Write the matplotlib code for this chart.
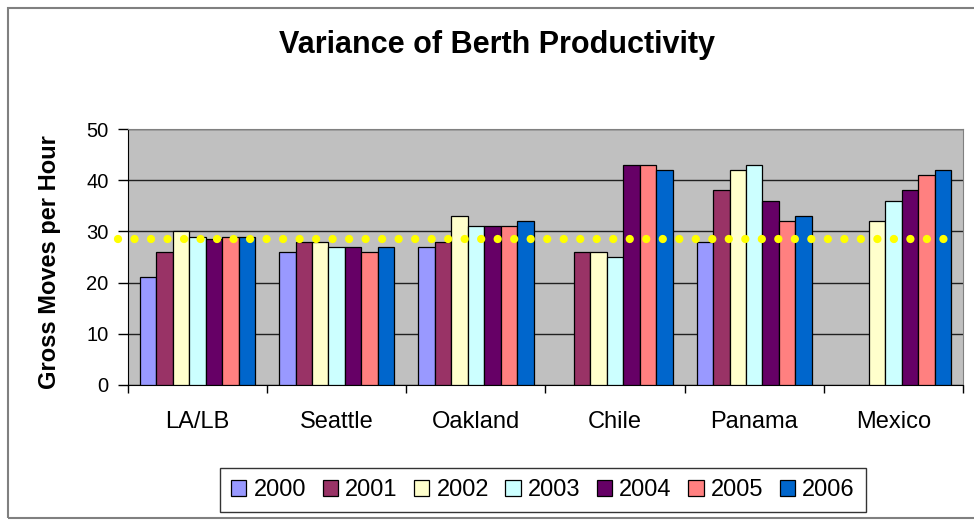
import numpy as np
import matplotlib.pyplot as plt
from matplotlib.patches import Rectangle

ports = ['LA/LB', 'Seattle', 'Oakland', 'Chile', 'Panama', 'Mexico']
years = ['2000', '2001', '2002', '2003', '2004', '2005', '2006']

# gross moves per hour, one list per port (nan = no data that year)
la_lb = [21, 26, 30, 29, 28.5, 29, 29]
seattle = [26, 28, 28, 27, 27, 26, 27]
oakland = [27, 28, 33, 31, 31, 31, 32]
chile = [np.nan, 26, 26, 25, 43, 43, 42]
panama = [28, 38, 42, 43, 36, 32, 33]
mexico = [np.nan, np.nan, 32, 36, 38, 41, 42]
average = 28.5

colors = ['#9999FF', '#993366', '#FFFFCC', '#CCFFFF', '#660066', '#FF8080', '#0066CC']

values = np.array([la_lb, seattle, oakland, chile, panama, mexico])

plt.rcParams['font.family'] = ['Liberation Sans', 'DejaVu Sans']

fig = plt.figure(figsize=(9.74, 5.23), dpi=100)
ax = fig.add_axes([0.1314, 0.2639, 0.8573, 0.4894])
ax.set_facecolor('#C0C0C0')

x = np.arange(len(ports)) + 0.5
w = 0.1185
for i, yr in enumerate(years):
    ax.bar(x + (i - 3) * w, values[:, i], width=w, color=colors[i],
           edgecolor='black', linewidth=0.9, label=yr, zorder=3)

# average line, dotted yellow, runs a little past the axis
ax.plot([-0.07, 5.955], [average, average], color='#FFFF00',
        linewidth=6, linestyle=(0, (0.001, 1.98)), dash_capstyle='round',
        clip_on=False, zorder=5)

ax.set_xlim(0, 6)
ax.set_ylim(0, 50)
ax.set_yticks([0, 10, 20, 30, 40, 50])
ax.yaxis.grid(True, color='#202020', linewidth=1)
ax.set_axisbelow(True)

ax.set_xticks(np.arange(7))
ax.set_xticklabels([])
ax.set_xticks(x, minor=True)
ax.set_xticklabels(ports, minor=True)
ax.tick_params(axis='x', which='minor', length=0, pad=19, labelsize=17)
ax.tick_params(axis='x', which='major', length=6, width=1, direction='out')
ax.tick_params(axis='y', length=7, width=1, direction='out', labelsize=14.5, pad=7)

for s in ['top', 'right']:
    ax.spines[s].set_color('#808080')
for s in ['left', 'bottom']:
    ax.spines[s].set_color('black')

ax.set_ylabel('Gross Moves per Hour', fontsize=17, fontweight='bold')
ax.yaxis.label.set_va('center')
ax.yaxis.set_label_coords(-0.094, 0.48)
fig.text(0.51, 0.914, 'Variance of Berth Productivity', ha='center', va='center',
         fontsize=22, fontweight='bold')

fig.legend(loc='center', bbox_to_anchor=(0.5575, 0.063), ncol=7,
           fontsize=17, frameon=True, fancybox=False, edgecolor='black',
           handlelength=0.65, handleheight=0.65, handletextpad=0.3,
           columnspacing=0.7, borderpad=0.45, borderaxespad=0)
fig.legends[0].get_frame().set_linewidth(1)

# chart border
fig.add_artist(Rectangle((8 / 974, 1 - 518 / 523), 1.0, 510 / 523,
                         transform=fig.transFigure, fill=False,
                         edgecolor='#808080', linewidth=1.5))

fig.savefig('out.png', dpi=100)
